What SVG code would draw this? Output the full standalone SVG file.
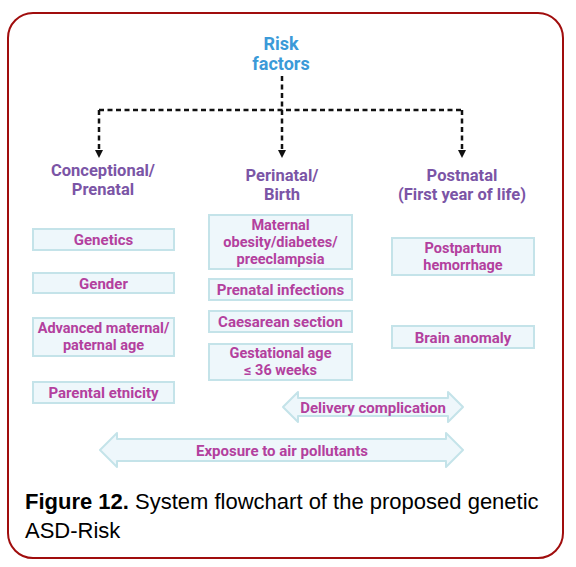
<svg xmlns="http://www.w3.org/2000/svg" width="576" height="567" viewBox="0 0 576 567">
<defs>
<style>
.frame{fill:#fff;stroke:#a00d0d;stroke-width:2}
.dash{fill:none;stroke:#111;stroke-width:2.5;stroke-dasharray:5 3.5}
.box{fill:#eef7fb;stroke:#c4e3e9;stroke-width:2}
.dbl{fill:#eef7fb;stroke:#c4e3e9;stroke-width:2;stroke-linejoin:round}
.t{font-family:Roboto,"Liberation Sans",sans-serif;font-weight:bold;text-anchor:middle}
.risk{fill:#3b9ad8;font-size:18px}
.hdr{fill:#7b55a6;font-size:16.5px}
.bt{fill:#b3409e;font-size:15px}
.bm{fill:#b3409e;font-size:14.5px}
.cap{font-family:"Liberation Sans",Arial,sans-serif;font-size:22px;fill:#000}
</style>
<marker id="ah" viewBox="0 0 10 10" refX="5" refY="5" markerWidth="10" markerHeight="8" markerUnits="userSpaceOnUse" orient="auto">
<path d="M0,0 L10,5 L0,10 z" fill="#111"/>
</marker>
</defs>
<rect width="576" height="567" fill="#fff"/>
<rect class="frame" x="8" y="13" width="555" height="545" rx="25" ry="25"/>

<g id="connectors">
<path class="dash" d="M282,76 V110"/>
<path class="dash" d="M99,110 H462"/>
<path class="dash" d="M99,110 V154" marker-end="url(#ah)"/>
<path class="dash" d="M282,110 V154" marker-end="url(#ah)"/>
<path class="dash" d="M462,110 V154" marker-end="url(#ah)"/>
</g>

<g id="risk-factors">
<text class="t risk" x="281" y="50">Risk</text>
<text class="t risk" x="281" y="70">factors</text>
</g>

<g id="conceptional">
<text class="t hdr" x="103" y="176">Conceptional/</text>
<text class="t hdr" x="103" y="195">Prenatal</text>
</g>
<g id="perinatal">
<text class="t hdr" x="282" y="181">Perinatal/</text>
<text class="t hdr" x="282" y="200">Birth</text>
</g>
<g id="postnatal">
<text class="t hdr" x="462" y="181">Postnatal</text>
<text class="t hdr" x="462" y="200">(First year of life)</text>
</g>

<g id="genetics">
<rect class="box" x="33" y="229" width="141" height="21"/>
<text class="t bt" x="103.5" y="245">Genetics</text>
</g>
<g id="gender">
<rect class="box" x="33" y="273" width="141" height="20"/>
<text class="t bt" x="103.5" y="288.5">Gender</text>
</g>
<g id="advanced-age">
<rect class="box" x="33" y="318" width="141" height="38"/>
<text class="t bm" x="103.5" y="333">Advanced maternal/</text>
<text class="t bm" x="103.5" y="350">paternal age</text>
</g>
<g id="parental-etnicity">
<rect class="box" x="33" y="382" width="141" height="21"/>
<text class="t bt" x="103.5" y="398">Parental etnicity</text>
</g>

<g id="maternal-obesity">
<rect class="box" x="209" y="215" width="143" height="54"/>
<text class="t bm" x="280.5" y="230">Maternal</text>
<text class="t bm" x="280.5" y="247">obesity/diabetes/</text>
<text class="t bm" x="280.5" y="264">preeclampsia</text>
</g>
<g id="prenatal-infections">
<rect class="box" x="209" y="279" width="143" height="21"/>
<text class="t bt" x="280.5" y="295">Prenatal infections</text>
</g>
<g id="caesarean">
<rect class="box" x="209" y="311" width="143" height="21"/>
<text class="t bt" x="280.5" y="327">Caesarean section</text>
</g>
<g id="gestational-age">
<rect class="box" x="209" y="344" width="143" height="36"/>
<text class="t bm" x="280.5" y="358">Gestational age</text>
<text class="t bm" x="280.5" y="375">≤ 36 weeks</text>
</g>

<g id="postpartum">
<rect class="box" x="392" y="238" width="142" height="37"/>
<text class="t bm" x="463" y="253">Postpartum</text>
<text class="t bm" x="463" y="270">hemorrhage</text>
</g>
<g id="brain-anomaly">
<rect class="box" x="392" y="326" width="142" height="22"/>
<text class="t bt" x="463" y="342.5">Brain anomaly</text>
</g>

<g id="delivery-complication">
<path class="dbl" d="M283,407 L298,392 L298,398 L448,398 L448,392 L463,407 L448,422 L448,416 L298,416 L298,422 Z"/>
<text class="t bt" x="373" y="412.5">Delivery complication</text>
</g>
<g id="air-pollutants">
<path class="dbl" d="M100,450 L117,433 L117,439 L446,439 L446,433 L463,450 L446,467 L446,461 L117,461 L117,467 Z"/>
<text class="t bt" x="282" y="455.5">Exposure to air pollutants</text>
</g>

<g id="caption">
<text class="cap" x="25" y="509"><tspan font-weight="bold">Figure 12.</tspan> System flowchart of the proposed genetic</text>
<text class="cap" x="25" y="538">ASD-Risk</text>
</g>
</svg>
